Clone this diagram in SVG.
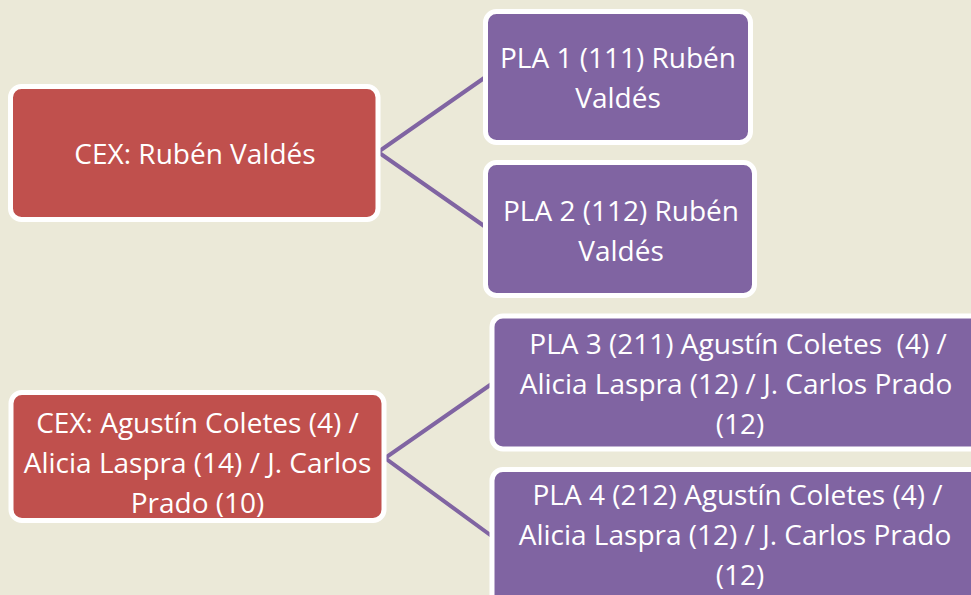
<svg xmlns="http://www.w3.org/2000/svg" width="971" height="595" viewBox="0 0 971 595">
<style>
.bg{fill:#EBE9D8}
.red{fill:#C0504D;stroke:#FFFFFF;stroke-width:5}
.pur{fill:#8064A2;stroke:#FFFFFF;stroke-width:5}
.conn{fill:none;stroke:#8064A2;stroke-width:4;stroke-linejoin:miter}
text{font-family:"Open Sans","Noto Sans",sans-serif;font-size:28px;fill:#FFFFFF;text-anchor:middle;white-space:pre}
</style>
<rect class="bg" x="0" y="0" width="971" height="595"/>
<g id="connectors">
<polyline class="conn" points="487,76 378,152 487,228"/>
<polyline class="conn" points="493,383 385,458 493,537"/>
</g>
<g id="cex1">
<rect class="red" x="10.5" y="86.5" width="367.5" height="133" rx="11"/>
<text x="195" y="164">CEX: Rubén Valdés</text>
</g>
<g id="pla1">
<rect class="pur" x="485.5" y="11.5" width="265" height="131" rx="11"/>
<text x="618" y="68">PLA 1 (111) Rubén</text>
<text x="618" y="108">Valdés</text>
</g>
<g id="pla2">
<rect class="pur" x="485.5" y="162.5" width="269" height="133" rx="11"/>
<text x="621" y="221">PLA 2 (112) Rubén</text>
<text x="621" y="261">Valdés</text>
</g>
<g id="cex2">
<rect class="red" x="11" y="392.5" width="373" height="128" rx="11"/>
<text x="197.5" y="433">CEX: Agustín Coletes (4) /</text>
<text x="197.5" y="473">Alicia Laspra (14) / J. Carlos</text>
<text x="197.5" y="513">Prado (10)</text>
</g>
<g id="pla3">
<rect class="pur" x="492" y="316" width="490" height="133" rx="11"/>
<text x="738" y="354">PLA 3 (211) Agustín Coletes  (4) /</text>
<text x="736" y="394">Alicia Laspra (12) / J. Carlos Prado</text>
<text x="740" y="434">(12)</text>
</g>
<g id="pla4">
<rect class="pur" x="492" y="469.5" width="490" height="150" rx="11"/>
<text x="737.5" y="505">PLA 4 (212) Agustín Coletes (4) /</text>
<text x="735" y="545">Alicia Laspra (12) / J. Carlos Prado</text>
<text x="740" y="585">(12)</text>
</g>
</svg>
